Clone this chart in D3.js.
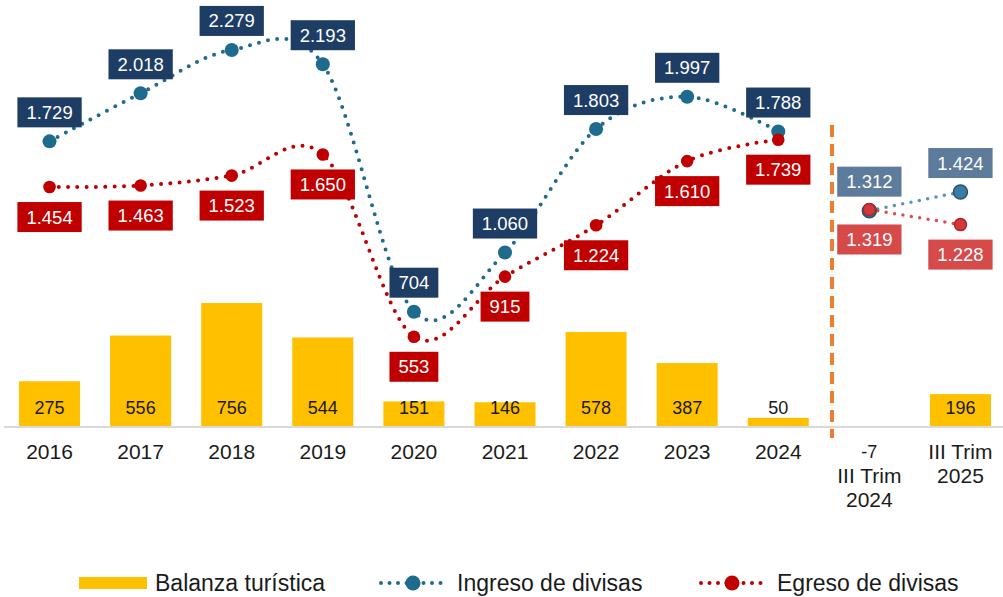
<!DOCTYPE html>
<html>
<head>
<meta charset="utf-8">
<script src="https://cdn.jsdelivr.net/npm/d3@7"></script>
<style>
  html, body { margin: 0; padding: 0; background: #fff; }
  svg { display: block; font-family: "Liberation Sans", Arial, sans-serif; }
</style>
</head>
<body>
<svg id="chart" width="1003" height="597"></svg>
<script>
// Categories: nine years plus two third-quarter comparisons
const categories = ["2016", "2017", "2018", "2019", "2020", "2021", "2022", "2023", "2024", "III Trim\n2024", "III Trim\n2025"];
// Balanza turística (bars)
const balanza = [275, 556, 756, 544, 151, 146, 578, 387, 50, -7, 196];
// Annual series 2016–2024
const ingresoAnual = [1729, 2018, 2279, 2193, 704, 1060, 1803, 1997, 1788];
const egresoAnual = [1454, 1463, 1523, 1650, 553, 915, 1224, 1610, 1739];
// Third-quarter series (III Trim 2024, III Trim 2025)
const ingresoTrim = [1312, 1424];
const egresoTrim = [1319, 1228];
// Legend entries
const legendLabels = ["Balanza turística", "Ingreso de divisas", "Egreso de divisas"];

const locale = d3.formatLocale({ decimal: ",", thousands: ".", grouping: [3], currency: ["", ""], minus: "-" });
const fmt = locale.format(",d");

const svg = d3.select("#chart");

const x = d3.scaleBand()
  .domain(categories)
  .range([4, 1006])
  .paddingInner(0.33)
  .paddingOuter(0.165);
const cx = c => x(c) + x.bandwidth() / 2;

// Bars use the primary axis, lines a secondary one
const yBar = d3.scaleLinear().domain([0, 2600]).range([426, 426 - 2600 * 0.1627]);
const yLine = d3.scaleLinear().domain([0, 2600]).range([428.7, 428.7 - 2600 * 0.1662]);

const C = {
  bar: "#FFC000",
  ingLine: "#1f6b8d",
  ingBox: "#1e3d65",
  egr: "#C00000",
  ingTrimBox: "#5d7b9b",
  ingTrimLine: "#5b93b8",
  ingTrimDot: "#3e7ba3",
  egrTrimBox: "#d64a4a",
  egrTrimLine: "#d65050",
  egrTrimDot: "#d03a3a",
  divider: "#ED7D31",
  axis: "#d9d9d9",
  text: "#1a1a1a"
};

// Bars
svg.append("g").selectAll("rect")
  .data(balanza)
  .join("rect")
  .attr("x", (d, i) => x(categories[i]))
  .attr("width", x.bandwidth())
  .attr("y", d => Math.min(yBar(d), yBar(0)))
  .attr("height", d => Math.abs(yBar(d) - yBar(0)))
  .attr("fill", C.bar);

// Category axis line
svg.append("line")
  .attr("x1", 4).attr("x2", 1003)
  .attr("y1", yBar(0) + 1).attr("y2", yBar(0) + 1)
  .attr("stroke", C.axis).attr("stroke-width", 2);

// Bar value labels: inside the base for positive, under the axis for negative
const barLabels = svg.append("g").attr("font-size", 18).attr("fill", C.text).attr("text-anchor", "middle");
balanza.forEach((v, i) => {
  barLabels.append("text")
    .attr("x", cx(categories[i]))
    .attr("y", v >= 0 ? 407.5 : 452)
    .attr("dy", "0.35em")
    .text(fmt(v));
});

// Category labels
const catG = svg.append("g").attr("font-size", 21).attr("fill", C.text).attr("text-anchor", "middle");
categories.forEach((c, i) => {
  const lines = c.split("\n");
  const shift = balanza[i] < 0 ? 1 : 0;
  lines.forEach((ln, j) => {
    catG.append("text")
      .attr("x", cx(c))
      .attr("y", 452 + (j + shift) * 24)
      .attr("dy", "0.35em")
      .text(ln);
  });
});

// Divider between annual and quarterly data
svg.append("line")
  .attr("x1", 832).attr("x2", 832)
  .attr("y1", 125).attr("y2", 438)
  .attr("stroke", C.divider).attr("stroke-width", 4)
  .attr("stroke-dasharray", "12,7");

const years = categories.slice(0, ingresoAnual.length);
const trims = categories.slice(ingresoAnual.length);

const smooth = d3.line()
  .x(d => cx(d.c))
  .y(d => yLine(d.v))
  .curve(d3.curveCardinal.tension(0));
const straight = d3.line()
  .x(d => cx(d.c))
  .y(d => yLine(d.v));

const ingPts = ingresoAnual.map((v, i) => ({ c: years[i], v }));
const egrPts = egresoAnual.map((v, i) => ({ c: years[i], v }));
const ingTPts = ingresoTrim.map((v, i) => ({ c: trims[i], v }));
const egrTPts = egresoTrim.map((v, i) => ({ c: trims[i], v }));

function dotted(pts, gen, color, w, gap) {
  svg.append("path")
    .attr("d", gen(pts))
    .attr("fill", "none")
    .attr("stroke", color)
    .attr("stroke-width", w)
    .attr("stroke-linecap", "round")
    .attr("stroke-dasharray", `0,${gap}`);
}
function markers(pts, fill, r, stroke) {
  svg.append("g").selectAll("circle")
    .data(pts)
    .join("circle")
    .attr("cx", d => cx(d.c))
    .attr("cy", d => yLine(d.v))
    .attr("r", r)
    .attr("fill", fill)
    .attr("stroke", stroke || "none")
    .attr("stroke-width", stroke ? 1.5 : 0);
}

dotted(ingPts, smooth, C.ingLine, 4, 9.3);
dotted(egrPts, smooth, C.egr, 4, 9.3);
markers(ingPts, C.ingLine, 7);
markers(egrPts, C.egr, 6.3);

dotted(ingTPts, straight, C.ingTrimLine, 3.5, 8.5);
dotted(egrTPts, straight, C.egrTrimLine, 3.5, 8.5);
markers(ingTPts, C.ingTrimDot, 7, "#1f5579");
markers(egrTPts, C.egrTrimDot, 6, "#b22424");

// Boxed value labels
function boxLabels(pts, fill, offset) {
  const g = svg.append("g");
  pts.forEach(d => {
    const px = cx(d.c), py = yLine(d.v) + offset;
    const lg = g.append("g");
    const rect = lg.append("rect").attr("fill", fill);
    const t = lg.append("text")
      .attr("x", px).attr("y", py)
      .attr("dy", "0.35em")
      .attr("text-anchor", "middle")
      .attr("font-size", 18.5)
      .attr("fill", "#fff")
      .text(fmt(d.v));
    const w = t.node().getComputedTextLength() + 18;
    rect.attr("x", px - w / 2).attr("y", py - 15).attr("width", w).attr("height", 30);
  });
}
boxLabels(ingPts, C.ingBox, -29);
boxLabels(egrPts, C.egr, 30);
boxLabels(ingTPts, C.ingTrimBox, -29);
boxLabels(egrTPts, C.egrTrimBox, 30);

// Legend
const leg = svg.append("g").attr("font-size", 23).attr("fill", C.text);
const legY = 583;
leg.append("rect").attr("x", 79).attr("y", legY - 6).attr("width", 68).attr("height", 12).attr("fill", C.bar);
leg.append("text").attr("x", 155).attr("y", legY).attr("dy", "0.33em").text(legendLabels[0]);

function legendLine(x0, x1, xm, color, label, tx) {
  leg.append("line")
    .attr("x1", x0).attr("x2", x1).attr("y1", legY).attr("y2", legY)
    .attr("stroke", color).attr("stroke-width", 4)
    .attr("stroke-linecap", "round").attr("stroke-dasharray", "0,8.5");
  leg.append("circle").attr("cx", xm).attr("cy", legY).attr("r", 7.5).attr("fill", color);
  leg.append("text").attr("x", tx).attr("y", legY).attr("dy", "0.33em").text(label);
}
legendLine(381, 442, 413, C.ingLine, legendLabels[1], 457);
legendLine(701, 761, 732, C.egr, legendLabels[2], 777);
</script>
</body>
</html>
